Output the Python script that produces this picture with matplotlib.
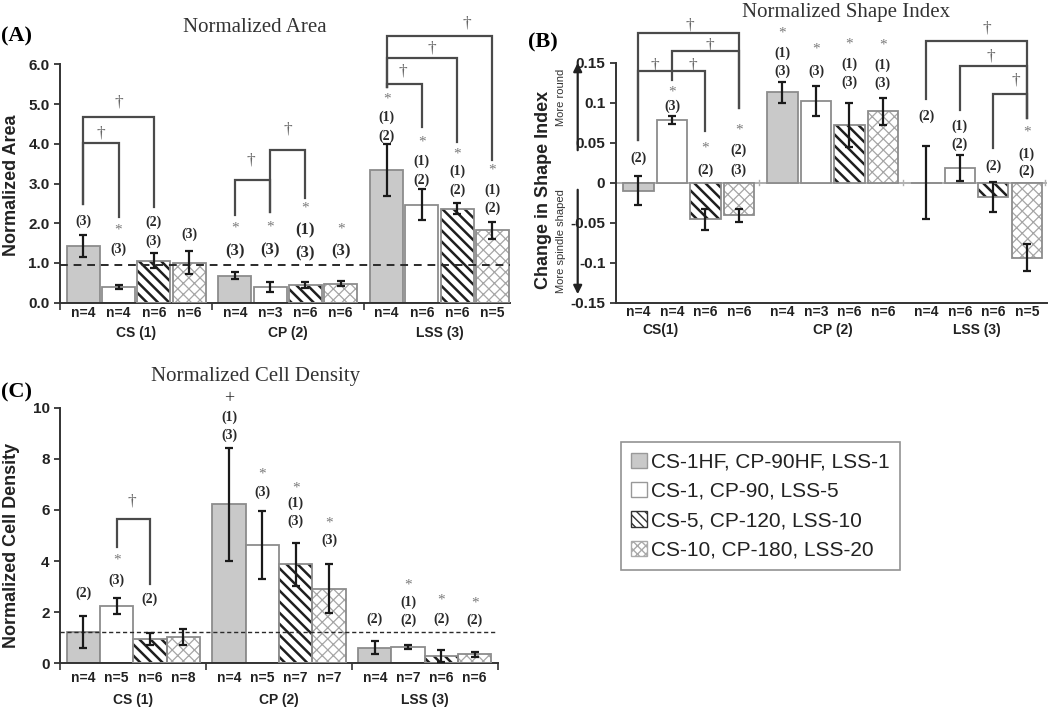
import matplotlib

matplotlib.use("Agg")
import matplotlib.pyplot as plt  # noqa: E402
import matplotlib.transforms as mtransforms  # noqa: E402
from matplotlib.patches import FancyArrowPatch, Patch  # noqa: E402

plt.rcParams["font.family"] = ["Liberation Sans", "DejaVu Sans"]

W, H = 1050, 708
SERIF = ["Liberation Serif", "DejaVu Serif"]

groups_ab = ["CS (1)", "CP (2)", "LSS (3)"]
series_labels = [
    "CS-1HF, CP-90HF, LSS-1",
    "CS-1, CP-90, LSS-5",
    "CS-5, CP-120, LSS-10",
    "CS-10, CP-180, LSS-20",
]

# (A) normalized area, bar order CS x4, CP x4, LSS x4
area_mean = [1.43, 0.40, 1.06, 1.01, 0.68, 0.39, 0.45, 0.48, 3.34, 2.47, 2.37, 1.82]
area_err = [0.27, 0.05, 0.19, 0.30, 0.09, 0.13, 0.07, 0.06, 0.65, 0.40, 0.15, 0.21]
area_n = [4, 4, 6, 6, 4, 3, 6, 6, 4, 6, 6, 5]
area_ref = 0.95
area_marks = [
    ["(3)"], ["*", "(3)"], ["(2)", "(3)"], ["(3)"],
    ["*", "(3)"], ["*", "(3)"], ["*", "(1)", "(3)"], ["*", "(3)"],
    ["*", "(1)", "(2)"], ["*", "(1)", "(2)"], ["*", "(1)", "(2)"], ["*", "(1)", "(2)"],
]
area_mark_y = [
    [2.04], [1.88, 1.35], [2.02, 1.54], [1.73],
    [1.93, 1.28], [1.95, 1.31], [2.43, 1.83, 1.25], [1.91, 1.28],
    [5.18, 4.67, 4.20], [4.09, 3.55, 3.09], [3.80, 3.30, 2.84], [3.39, 2.84, 2.38],
]
area_mark_size = [10] * 4 + [12] * 4 + [10] * 4
# bracket: bar a, bar b, top, bottom at a, bottom at b
area_brackets = [
    (0, 2, 4.68, 2.48, 2.41), (0, 1, 4.02, 2.48, 2.16),
    (4, 5, 3.09, 2.21, 2.29), (5, 6, 3.84, 2.29, 2.64),
    (8, 9, 5.51, 5.43, 4.43), (8, 10, 6.16, 5.43, 4.05), (8, 11, 6.72, 5.43, 3.59),
]
area_daggers = [(1.0, 5.03), (0.5, 4.27), (4.75, 3.59), (5.8, 4.35),
                (9.07, 5.81), (9.89, 6.41), (10.88, 7.02)]

# (B) change in shape index
shape_mean = [-0.010, 0.078, -0.046, -0.041, 0.113, 0.102, 0.072, 0.089, 0.0, 0.018, -0.018, -0.094]
shape_err = [0.018, 0.005, 0.013, 0.008, 0.013, 0.019, 0.028, 0.017, 0.046, 0.016, 0.019, 0.017]
shape_n = [4, 4, 6, 6, 4, 3, 6, 6, 4, 6, 6, 5]
shape_marks = [
    ["(2)"], ["*", "(3)"], ["*", "(2)"], ["*", "(2)", "(3)"],
    ["*", "(1)", "(3)"], ["*", "(3)"], ["*", "(1)", "(3)"], ["*", "(1)", "(3)"],
    ["(2)"], ["(1)", "(2)"], ["(2)"], ["*", "(1)", "(2)"],
]
shape_mark_y = [
    [0.0305], [0.116, 0.096], [0.046, 0.016], [0.068, 0.040, 0.016],
    [0.190, 0.162, 0.139], [0.170, 0.139], [0.176, 0.148, 0.126], [0.175, 0.147, 0.124],
    [0.0825], [0.071, 0.048], [0.021], [0.066, 0.036, 0.014],
]
shape_brackets = [
    (0, 3, 0.1875, 0.053, 0.093), (1, 3, 0.164, 0.128, 0.093), (0, 2, 0.140, 0.053, 0.064),
    (8, 11, 0.1775, 0.104, 0.0805), (9, 11, 0.146, 0.091, 0.0805), (10, 11, 0.111, 0.043, 0.0805),
]
shape_daggers = [(1.53, 0.197), (2.12, 0.172), (0.5, 0.147), (1.63, 0.147),
                 (10.4, 0.193), (10.52, 0.1575), (11.26, 0.128)]

# (C) normalized cell density
density_mean = [1.21, 2.24, 0.96, 1.04, 6.22, 4.63, 3.87, 2.92, 0.61, 0.63, 0.29, 0.35]
density_err = [0.63, 0.31, 0.24, 0.31, 2.20, 1.32, 0.84, 0.96, 0.25, 0.08, 0.23, 0.11]
density_n = [4, 5, 6, 8, 4, 5, 7, 7, 4, 7, 6, 6]
density_ref = 1.21
density_marks = [
    ["(2)"], ["*", "(3)"], ["(2)"], [],
    ["+", "(1)", "(3)"], ["*", "(3)"], ["*", "(1)", "(3)"], ["*", "(3)"],
    ["(2)"], ["*", "(1)", "(2)"], ["*", "(2)"], ["*", "(2)"],
]
density_mark_y = [
    [2.74], [4.11, 3.26], [2.50], [],
    [10.37, 9.62, 8.93], [7.50, 6.71], [6.95, 6.26, 5.57], [5.58, 4.80],
    [1.72], [3.15, 2.37, 1.69], [2.57, 1.73], [2.44, 1.67],
]
density_brackets = [(1, 2, 5.63, 4.56, 3.10)]
density_daggers = [(1.45, 6.32)]

# series styles: face, hatch, hatch colour, hatch width
STYLES = [
    ("#c9c9c9", None, None, 0),
    ("white", None, None, 0),
    ("white", "\\\\\\", "#1e1e1e", 1.8),
    ("white", "xxx", "#a6a6a6", 0.9),
]
EDGE = "#8c8c8c"


def fx(x):
    return x / W


def fy(y):
    return 1 - y / H


def positions(gap):
    return [g * gap + s for g in range(3) for s in range(4)]


def draw_bars(ax, xs, means, errs, width):
    for s, (face, hatch, hcol, hlw) in enumerate(STYLES):
        sx = xs[s::4]
        sv = means[s::4]
        if hatch:
            with plt.rc_context({"hatch.linewidth": hlw}):
                bars = ax.bar(sx, sv, width, color=face, edgecolor=hcol, hatch=hatch,
                              linewidth=0, zorder=2)
            for b in bars:
                if hasattr(b, "set_hatch_linewidth"):
                    b.set_hatch_linewidth(hlw)
            ax.bar(sx, sv, width, fill=False, edgecolor=EDGE, linewidth=1.3, zorder=3)
        else:
            ax.bar(sx, sv, width, color=face, edgecolor=EDGE, linewidth=1.3, zorder=2)
    ax.errorbar(xs, means, yerr=errs, fmt="none", ecolor="#1a1a1a", elinewidth=1.6,
                capsize=3, capthick=1.6, zorder=5)


def draw_marks(ax, xs, marks, mark_y, sizes):
    star_tr = mtransforms.offset_copy(ax.transData, fig=ax.figure, x=0, y=-2, units="dots")
    for x, lines, ys, size in zip(xs, marks, mark_y, sizes):
        for t, y in zip(lines, ys):
            if t == "*":
                ax.text(x, y, "*", ha="center", va="center", fontsize=11,
                        color="#7a7a7a", family=SERIF, clip_on=False, transform=star_tr)
            elif t == "+":
                ax.text(x, y, "+", ha="center", va="center", fontsize=13,
                        color="#222222", family=SERIF, clip_on=False)
            else:
                ax.text(x, y, t, ha="center", va="center", fontsize=size,
                        fontweight="bold", color="#2a2a2a", family=SERIF, clip_on=False)


def draw_brackets(ax, xs, brackets, daggers):
    for a, b, top, ya, yb in brackets:
        ax.plot([xs[a], xs[a], xs[b], xs[b]], [ya, top, top, yb], color="#4a4a4a",
                linewidth=1.6, clip_on=False, zorder=6, solid_joinstyle="miter")
    for x, y in daggers:
        ax.text(x, y, "\u2020", ha="center", va="center", fontsize=12.5, color="#666666",
                family=SERIF, clip_on=False)


def label_bars(ax, xs, ns, names, centers, n_off, g_off):
    for x, n in zip(xs, ns):
        ax.annotate(f"n={n}", (x, 0), xycoords=("data", "axes fraction"),
                    xytext=(0, -n_off * 0.72), textcoords="offset points",
                    ha="center", va="center", fontsize=10, fontweight="bold", color="#222222")
    for c, name in zip(centers, names):
        ax.annotate(name, (c, 0), xycoords=("data", "axes fraction"),
                    xytext=(0, -g_off * 0.72), textcoords="offset points",
                    ha="center", va="center", fontsize=10, fontweight="bold", color="#222222")


def style_axes(ax):
    for side in ("top", "right"):
        ax.spines[side].set_visible(False)
    for side in ("left", "bottom"):
        ax.spines[side].set_linewidth(1.4)
        ax.spines[side].set_color("#333333")
    ax.tick_params(axis="y", direction="out", length=4, width=1.2, labelsize=11,
                   colors="#222222")
    for lab in ax.get_yticklabels():
        lab.set_fontweight("bold")


fig = plt.figure(figsize=(W / 100, H / 100), dpi=100)

# ---------------- (A) ----------------
gap_a = 4.3
xa = positions(gap_a)
axA = fig.add_axes([fx(60), fy(302.7), fx(450), 238.4 / H])
draw_bars(axA, xa, area_mean, area_err, 0.94)
axA.axhline(area_ref, color="#2a2a2a", linestyle=(0, (4, 3)), linewidth=1.4, zorder=4)
axA.set_xlim(-0.66, 12.1)
axA.set_ylim(0, 6)
axA.set_yticks([0, 1, 2, 3, 4, 5, 6])
axA.set_yticklabels([f"{v:.1f}" for v in range(7)])
axA.set_xticks([-0.66, 3.65, 7.95])
axA.set_xticklabels([])
axA.tick_params(axis="x", direction="out", length=5, width=1.2, colors="#333333")
style_axes(axA)
draw_marks(axA, xa, area_marks, area_mark_y, area_mark_size)
draw_brackets(axA, xa, area_brackets, area_daggers)
label_bars(axA, xa, area_n, groups_ab, [1.5, 1.5 + gap_a, 1.5 + 2 * gap_a], 10, 30)
fig.text(fx(12), fy(185), "Normalized Area", rotation=90, ha="center", va="center",
         fontsize=13, fontweight="bold", color="#222222")
fig.text(fx(255), fy(28), "Normalized Area", ha="center", va="center", fontsize=15,
         family=SERIF, color="#333333")
fig.text(fx(1), fy(36), "(A)", ha="left", va="center", fontsize=16, fontweight="bold",
         family=SERIF)

# ---------------- (B) ----------------
gap_b = 4.3
xb = positions(gap_b)
axB = fig.add_axes([fx(615.7), fy(302.7), fx(1047 - 615.7), 240 / H])
axB.axhline(0, color="#a8a8a8", linewidth=1.3, zorder=1)
draw_bars(axB, xb, shape_mean, shape_err, 0.9)
axB.set_xlim(-0.68, 12.2)
axB.set_ylim(-0.15, 0.15)
axB.set_yticks([-0.15, -0.1, -0.05, 0, 0.05, 0.1, 0.15])
axB.set_yticklabels(["-0.15", "-0.1", "-0.05", "0", "0.05", "0.1", "0.15"])
axB.set_xticks([])
style_axes(axB)
for bx in [3.6, 7.9, 12.15]:
    axB.plot([bx, bx], [-0.003, 0.003], color="#b0b0b0", linewidth=1, clip_on=False)
draw_marks(axB, xb, shape_marks, shape_mark_y, [10] * 12)
draw_brackets(axB, xb, shape_brackets, shape_daggers)
label_bars(axB, xb, shape_n, ["CS(1)", "CP (2)", "LSS (3)"],
           [0.65, 1.5 + gap_b, 1.5 + 2 * gap_b], 9, 27)
fig.text(fx(544), fy(190), "Change in Shape Index", rotation=90, ha="center",
         va="center", fontsize=13, fontweight="bold", color="#222222")
fig.text(fx(561), fy(97), "More round", rotation=90, ha="center", va="center",
         fontsize=8, color="#333333")
fig.text(fx(561), fy(241), "More spindle shaped", rotation=90, ha="center", va="center",
         fontsize=8, color="#333333")
for y0, y1 in [(153, 60), (187, 297)]:
    fig.patches.append(FancyArrowPatch(
        (fx(577.7), fy(y0)), (fx(577.7), fy(y1)), transform=fig.transFigure,
        arrowstyle="-|>,head_width=2.5,head_length=5", color="#222222", linewidth=1.6))
fig.text(fx(846), fy(13), "Normalized Shape Index", ha="center", va="center",
         fontsize=15, family=SERIF, color="#333333")
fig.text(fx(528), fy(42), "(B)", ha="left", va="center", fontsize=16, fontweight="bold",
         family=SERIF)

# ---------------- (C) ----------------
gap_c = 4.375
xc = positions(gap_c)
axC = fig.add_axes([fx(60), fy(663.3), fx(438), 255.6 / H])
draw_bars(axC, xc, density_mean, density_err, 1.0)
axC.axhline(density_ref, color="#2a2a2a", linestyle=(0, (3, 2)), linewidth=1.0, zorder=4)
axC.set_xlim(-0.7, 12.45)
axC.set_ylim(0, 10)
axC.set_yticks([0, 2, 4, 6, 8, 10])
axC.set_xticks([-0.7, 3.69, 8.06, 12.45])
axC.set_xticklabels([])
axC.tick_params(axis="x", direction="out", length=5, width=1.2, colors="#333333")
style_axes(axC)
draw_marks(axC, xc, density_marks, density_mark_y, [10] * 12)
draw_brackets(axC, xc, density_brackets, density_daggers)
label_bars(axC, xc, density_n, groups_ab, [1.5, 1.5 + gap_c, 1.5 + 2 * gap_c], 15, 37)
fig.text(fx(12), fy(545), "Normalized Cell Density", rotation=90, ha="center",
         va="center", fontsize=13, fontweight="bold", color="#222222")
fig.text(fx(256), fy(377), "Normalized Cell Density", ha="center", va="center",
         fontsize=15, family=SERIF, color="#333333")
fig.text(fx(1), fy(392), "(C)", ha="left", va="center", fontsize=16, fontweight="bold",
         family=SERIF)

# ---------------- legend ----------------
handles = [
    Patch(facecolor="#c9c9c9", edgecolor="#999999"),
    Patch(facecolor="white", edgecolor="#999999"),
    Patch(facecolor="white", edgecolor="#333333", hatch="\\\\\\\\"),
    Patch(facecolor="white", edgecolor="#aaaaaa", hatch="xxxx"),
]
leg = fig.legend(handles, series_labels, loc="upper left",
                 bbox_to_anchor=(fx(621), fy(442)), frameon=True, fancybox=False,
                 fontsize=15, handlelength=0.75, handleheight=0.75, handletextpad=0.2,
                 labelspacing=0.5, borderpad=0.5, borderaxespad=0)
leg.get_frame().set_edgecolor("#777777")
leg.get_frame().set_linewidth(1.2)
for t in leg.get_texts():
    t.set_color("#222222")

fig.savefig("out.png", dpi=100)
